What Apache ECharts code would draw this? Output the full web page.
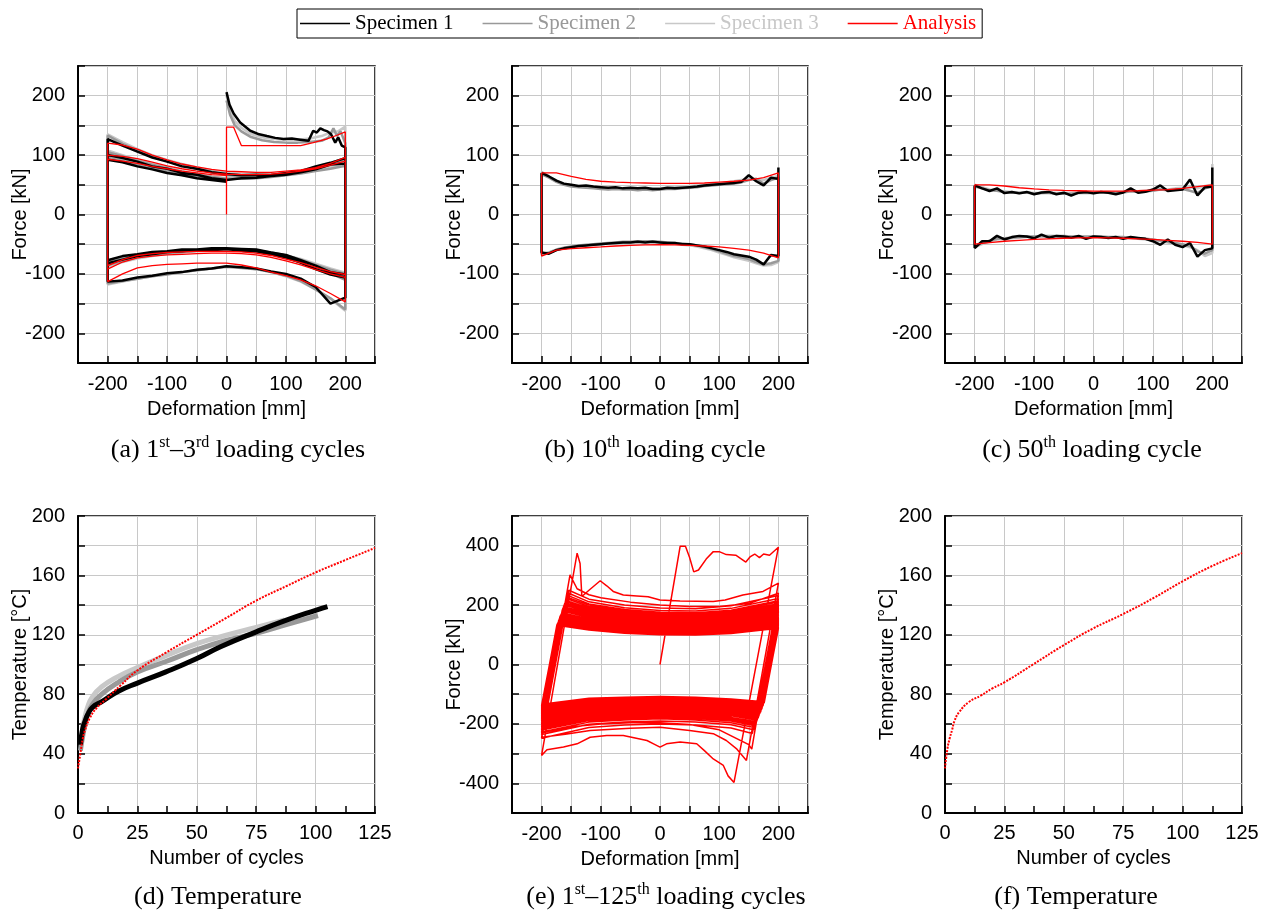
<!DOCTYPE html>
<html><head><meta charset="utf-8">
<script src="https://cdn.jsdelivr.net/npm/echarts@6/dist/echarts.min.js"></script>
<style>html,body{margin:0;padding:0;background:#fff}#c{width:1271px;height:916px}</style>
</head><body><div id="c"></div>
<script>
// ---------------- DATA ----------------
const X17 = [-200,-175,-150,-125,-100,-75,-50,-25,0,25,50,75,100,125,150,175,200];
const X33 = [-200,-187.5,-175,-162.5,-150,-137.5,-125,-112.5,-100,-87.5,-75,-62.5,-50,-37.5,-25,-12.5,0,12.5,25,37.5,50,62.5,75,87.5,100,112.5,125,137.5,150,162.5,175,187.5,200];

// (a) 1st-3rd cycles
const a_s1_first = [[0,206],[5,185],[12,170],[23,155],[40,141],[55,135],[68,132],[82,129],[96,127],[110,128],[124,126],[138,124],[146,141],[152,138],[158,145],[164,142],[170,140],[176,135],[183,121],[188,130],[194,116],[200,113]];
const a_s1_lo1 = [-113,-111,-106,-103,-99,-97,-93,-91,-87,-89,-91,-96,-100,-108,-122,-150,-140];
const a_s1_up2 = [127,116,106,96,89,81,77,71,68,66,67,66,70,73,81,87,95];
const a_s1_lo2 = [-82,-76,-70,-67,-63,-62,-59,-60,-58,-61,-62,-67,-72,-81,-92,-101,-106];
const a_s1_up3 = [100,95,89,81,77,70,67,61,58,61,62,65,67,71,76,84,86];
const a_s1_lo3 = [-77,-70,-67,-63,-62,-59,-59,-57,-57,-58,-59,-64,-68,-77,-86,-97,-101];
const a_s1_up4 = [92,88,81,76,70,66,61,58,55];

const a_s2_first = [[0,192],[6,168],[14,150],[25,140],[40,131],[60,125],[80,122],[100,121],[120,121],[140,122],[160,124],[172,130],[180,145],[186,132],[192,140],[200,120]];
const a_s2_lo1 = [-116,-112,-108,-104,-101,-97,-94,-91,-88,-90,-92,-97,-103,-112,-126,-141,-160];
const a_s2_up2 = [133,119,108,98,90,83,77,72,66,65,64,66,68,72,78,85,93];
const a_s2_lo2 = [-85,-78,-72,-68,-65,-63,-61,-60,-60,-61,-63,-67,-73,-81,-90,-99,-110];
const a_s2_up3 = [105,98,90,84,78,72,67,63,60,60,61,63,66,69,73,77,82];
const a_s2_lo3 = [-78,-72,-68,-65,-63,-61,-60,-59,-59,-60,-61,-64,-69,-76,-85,-93,-100];
const a_s2_up4 = [95,90,84,78,72,67,63,60,57];

const a_s3_first = [[0,200],[6,175],[14,157],[25,146],[40,136],[60,130],[80,127],[100,126],[120,126],[140,128],[160,132],[175,138],[188,140],[200,148]];
const a_s3_lo1 = [-118,-113,-108,-104,-100,-97,-94,-91,-88,-89,-92,-97,-104,-113,-126,-142,-162];
const a_s3_up2 = [135,122,110,100,92,85,79,74,70,68,67,68,70,74,80,87,95];
const a_s3_lo2 = [-88,-80,-74,-70,-66,-64,-62,-61,-60,-61,-63,-67,-73,-80,-88,-96,-104];
const a_s3_up3 = [108,100,92,85,79,73,68,64,61,61,62,64,67,71,75,80,85];
const a_s3_lo3 = [-80,-74,-69,-66,-63,-61,-60,-59,-58,-59,-61,-64,-69,-75,-83,-91,-98];
const a_s3_up4 = [98,92,85,79,73,68,64,61,58];

const a_an_first = [[0,0],[0,147],[12,147],[25,116],[75,116],[125,116],[146,121],[168,127],[185,133],[200,139]];
const a_an_lo1 = [-113,-100,-90,-86,-84,-83,-82,-82,-82,-85,-90,-97,-103,-110,-120,-133,-147];
const a_an_up2 = [120,117,110,100,92,85,80,76,73,72,71,71,73,75,79,86,96];
const a_an_lo2 = [-92,-80,-73,-70,-68,-67,-66,-65,-65,-66,-68,-72,-78,-85,-93,-100,-106];
const a_an_up3 = [100,98,94,88,82,77,73,70,68,67,67,68,70,73,77,83,90];
const a_an_lo3 = [-86,-76,-69,-66,-64,-63,-62,-62,-62,-63,-65,-69,-75,-81,-89,-96,-101];
const a_an_up4 = [93,90,86,81,77,73,70,67,66];

// (b) 10th cycle
const b_s1_up = [70,64,57,52,50,48,49,47,46,45,46,44,45,44,45,43,43,45,44,45,46,47,49,50,51,52,53,55,66,56,49,62,60];
const b_s1_lo = [-64,-66,-60,-57,-55,-53,-52,-51,-50,-49,-48,-47,-47,-46,-47,-46,-47,-48,-48,-50,-50,-52,-54,-57,-60,-63,-67,-69,-71,-76,-84,-68,-70];
const b_s1_peak = 79;
const b_s2_up = [68,62,55,50,47,46,45,44,43,42,43,42,42,41,42,41,42,43,43,44,45,46,48,49,50,51,52,54,58,60,52,58,62];
const b_s2_lo = [-66,-64,-59,-56,-54,-52,-51,-50,-49,-48,-47,-46,-46,-45,-45,-45,-46,-47,-48,-49,-50,-52,-55,-58,-62,-66,-70,-72,-75,-80,-84,-82,-78];
const b_s3_up = [72,64,57,52,49,47,46,45,44,43,44,43,43,43,44,44,44,45,46,47,48,49,50,51,52,54,56,58,60,60,58,62,65];
const b_s3_lo = [-68,-65,-60,-57,-55,-53,-52,-51,-50,-49,-48,-47,-47,-46,-46,-46,-47,-48,-49,-51,-52,-54,-57,-60,-64,-68,-72,-75,-78,-82,-86,-85,-80];
const b_an_up = [70,70,64,59,56,54.5,53.5,53,52.5,52.5,52.5,53,54.5,56,58,62,70];
const b_an_lo = [-70,-60,-57.5,-56,-54.6,-53,-52,-51,-50.7,-51,-52,-53,-54.6,-57,-60,-65,-73];

// (c) 50th cycle
const c_s1_up = [49,44,39.5,44,36,38,35.6,38,34,37,38,34,36.7,32,36.7,38,35.6,38,36.7,34,37,44,36.7,38.4,42,49,39.5,41,42,59,32,46,47];
const c_s1_lo = [-56.5,-45,-45,-36,-42,-38,-36,-37,-40,-34,-39,-36,-37,-39,-36,-41,-37,-38,-39.5,-38,-41,-38,-39.5,-41,-45,-51,-42,-51,-55,-48,-71,-60,-57];
const c_s1_peak = 79;
const c_s2_up = [47,44,41,40,38,37,36,37,35,36,36,35,35,35,36,36,36,37,37,36,37,39,38,39,40,42,41,42,43,40,36,44,47];
const c_s2_lo = [-52,-48,-44,-41,-40,-39,-38,-37,-37,-36,-36,-36,-36,-37,-37,-37,-37,-37,-38,-38,-38,-39,-40,-41,-42,-44,-46,-48,-50,-53,-62,-66,-60];
const c_s3_up = [50,46,42,40,39,38,37,37,36,36,37,36,36,36,37,37,37,38,38,37,38,40,39,40,41,43,42,44,45,46,44,48,50];
const c_s3_lo = [-55,-50,-45,-42,-41,-40,-39,-38,-38,-37,-37,-37,-37,-38,-38,-38,-38,-38,-39,-39,-39,-40,-41,-42,-43,-45,-47,-49,-52,-55,-60,-70,-65];
const c_s3_peak = 85;
const c_an_up = [50,50,48,45,43,41.5,40.5,40,39.5,39.5,39.5,40,41,42,44,47,50];
const c_an_lo = [-50,-47.5,-45,-43.5,-42,-41,-40,-39.5,-39,-39.5,-40,-41,-42,-43.5,-45,-47,-50];

// (d) temperature, tests and analysis  [cycle, degC]
const d_s1 = [[1,46],[2,57],[3,62],[4,66],[6,71],[10,75],[17,82],[25,87.5],[37,95],[50,104],[60,112],[75,122],[88,130],[100,136.5],[105,139]];
const d_s2 = [[1,42],[2,52],[3,60],[4,66],[6,73],[10,80],[17,88],[25,95],[37,102],[50,110],[62,116],[75,121],[88,127],[101,133]];
const d_s3 = [[2,58],[3,65],[4,71],[6,78],[10,85],[17,92],[25,98],[37,106],[50,114],[62,119.6],[75,125],[87,130]];
const d_an = [[0,30],[1,40],[2,50],[3,56],[5,64],[8,71],[12,77],[18,86],[25,96],[37,108],[50,120],[62,131],[75,143],[88,153],[100,162],[112,170],[125,178.5]];

// (e) analysis, 1st-125th cycles
const e_start = [[0,0],[34,398],[43,398],[50,360],[57,312],[65,318],[78,355],[90,380],[100,380],[112,370],[128,368],[145,345],[152,362],[160,372],[168,360],[175,372],[185,368],[200,395],
 [125,-397],[115,-375],[107,-340],[90,-318],[75,-290],[62,-267],[34,-261],[11,-267],[0,-278],[-10,-268],[-22,-256],[-62,-239],[-90,-239],[-118,-245],[-140,-267],[-163,-278],[-191,-287],[-200,-306],
 [-140,375],[-135,340],[-132,229],[-120,250],[-101,282],[-90,265],[-79,246],[-62,234],[-39,231],[-20,228],[0,217],[34,214],[90,212],[110,217],[140,234],[174,246],[200,274],
 [146,-323],[130,-285],[112,-256],[90,-233],[50,-222],[0,-211],[-50,-215],[-118,-222],[-160,-235],[-200,-245],
 [-152,302],[-140,255],[-120,235],[-100,225],[-50,210],[0,200],[50,195],[100,195],[150,205],[200,240],
 [155,-285],[150,-270],[100,-220],[50,-202],[0,-196],[-50,-196],[-100,-200],[-150,-210],[-200,-230]];
const E_UP_X = [-120,-60,0,60,120,200];
const E_LO_X = [120,60,0,-60,-120,-200];
// each row: [corner x, corner force, forces at E_UP_X]
const e_upRows = [
 [-154,250,220,200,190,188,198,232],[-154,240,211,191,182,180,189,222],[-155,232,204,185,176,174,183,215],
 [-157,227,200,181,172,170,179,210],[-158,222,195,176,168,166,175,205],[-159,216,190,172,164,162,171,200],
 [-160,211,186,168,160,158,166,195],[-161,206,181,164,156,154,162,190],[-162,201,176,160,152,150,158,185],
 [-163,195,172,155,148,147,154,181],[-164,190,167,151,144,143,150,176],[-165,185,162,147,140,139,146,171],
 [-165,180,158,143,136,135,141,166],[-166,174,153,139,132,131,137,161],[-167,170,150,135,129,128,134,157],
 [-168,166,146,132,126,125,131,154],[-169,162,143,129,123,122,128,150],[-169,158,139,126,120,119,125,146],
 [-170,154,136,123,117,116,122,143],[-171,150,132,120,114,113,119,139],[-171,147,129,117,111,110,115,135],
 [-172,143,125,113,108,107,112,132],[-173,139,122,110,105,104,109,128],[-174,135,118,107,102,101,106,124],
 [-174,132,116,105,100,99,104,122]];
// each row: [corner x, corner force, forces at E_LO_X]
const e_loRows = [
 [156,-232,-214,-204,-200,-204,-212,-248],[158,-220,-203,-194,-190,-194,-201,-236],[159,-212,-196,-187,-183,-187,-194,-227],
 [160,-206,-190,-182,-178,-182,-189,-221],[161,-202,-186,-177,-174,-177,-184,-216],[162,-197,-182,-173,-170,-173,-180,-211],
 [163,-193,-178,-169,-166,-169,-176,-206],[164,-188,-173,-165,-162,-165,-172,-201],[165,-183,-169,-161,-158,-161,-167,-196],
 [166,-179,-165,-157,-154,-157,-163,-191],[167,-174,-161,-153,-150,-153,-159,-186],[167,-171,-157,-150,-147,-150,-156,-182],
 [168,-167,-154,-147,-144,-147,-153,-179],[169,-164,-151,-144,-141,-144,-149,-175],[170,-160,-148,-141,-138,-141,-146,-171],
 [170,-157,-144,-138,-135,-138,-143,-167],[171,-153,-141,-135,-132,-135,-140,-164],[172,-150,-138,-132,-129,-132,-137,-160],
 [172,-146,-135,-129,-126,-129,-134,-156],[173,-143,-132,-125,-123,-125,-130,-153],[174,-139,-128,-122,-120,-122,-127,-149],
 [174,-136,-125,-119,-117,-119,-124,-145],[175,-132,-122,-116,-114,-116,-121,-141],[176,-129,-119,-113,-111,-113,-118,-138],
 [176,-125,-116,-110,-108,-110,-114,-134]];

// (f) analysis temperature
const f_an = [[0,30],[1,43],[2,50.5],[3,56],[4,62],[6,68],[10,74.7],[15,79],[20,84],[25,88],[37,100],[50,113],[62,124],[75,134],[88,145],[100,156],[112,166],[125,175]];

// ---------------- BUILD ----------------
const S1='Specimen 1', S2='Specimen 2', S3='Specimen 3', AN='Analysis';
const COL = {[S1]:'#000000',[S2]:'#999999',[S3]:'#c8c8c8',[AN]:'#ff0000'};
const lr = (xs, ys) => ys.map((y,i)=>[xs[i], y]);
const rl = (xs, ys) => lr(xs, ys).reverse();

function aLoop(first, lo1, up2, lo2, up3, lo3, up4){
  return [].concat(first, rl(X17,lo1), lr(X17,up2), rl(X17,lo2), lr(X17,up3), rl(X17,lo3), lr(X17.slice(0,9),up4));
}
function simpleLoop(xs, up, lo, peak){
  const u = lr(xs, up);
  const pts = u.concat(peak!=null ? [[xs[xs.length-1], peak]] : [], rl(xs, lo));
  pts.push(u[0]);
  return pts;
}
function ePath(){
  let pts = e_start.slice();
  for (let i=0;i<e_upRows.length;i++){
    const u = e_upRows[i], l = e_loRows[i];
    pts.push([u[0],u[1]]);
    E_UP_X.forEach((x,j)=>pts.push([x,u[j+2]]));
    pts.push([l[0],l[1]]);
    E_LO_X.forEach((x,j)=>pts.push([x,l[j+2]]));
  }
  return pts;
}

const FS = 'Liberation Sans';
const GRIDS = [
  {left:78, top:66, width:297, height:297},
  {left:512, top:66, width:296, height:297},
  {left:945, top:66, width:297, height:297},
  {left:78, top:516, width:297, height:297},
  {left:512, top:516, width:296, height:297},
  {left:945, top:516, width:297, height:297}
].map(g=>Object.assign({show:true, borderColor:'#000', borderWidth:1.5, containLabel:false, outerBoundsMode:'none'}, g));

function axis(gi, o){
  return {
    type:'value', gridIndex:gi, min:o.min, max:o.max, interval:o.interval,
    name:o.name, nameLocation:'middle', nameGap:o.nameGap, nameMoveOverlap:false,
    nameTextStyle:{fontFamily:FS, fontSize:20, color:'#000'},
    axisLine:{show:true, onZero:false, lineStyle:{color:'#000', width:2}},
    axisTick:{show:true, inside:true, length:7, lineStyle:{color:'#000', width:1.5}},
    minorTick: o.minor ? {show:true, splitNumber:2, length:7, lineStyle:{color:'#000', width:1.5}} : {show:false},
    axisLabel:{show:true, interval:0, margin:o.margin, color:'#000', fontFamily:FS, fontSize:20,
      showMinLabel:true, showMaxLabel:true, formatter:o.fmt},
    splitLine:{show:true, lineStyle:{color:'#c8c8c8', width:1}}
  };
}
const fmt100 = v => (v % 100 === 0 && Math.abs(v) <= 200) ? String(v) : '';
const fmt200 = v => (v % 200 === 0 && Math.abs(v) <= 400) ? String(v) : '';
const fmt40 = v => (v % 40 === 0) ? String(v) : '';
const fmtAll = v => String(v);

const YGAP = 48;
const xAxes = [], yAxes = [];
[0,1,2].forEach(gi=>{
  xAxes.push(axis(gi,{min:-250,max:250,interval:50,name:'Deformation [mm]',nameGap:36,margin:11,fmt:fmt100}));
  yAxes.push(axis(gi,{min:-250,max:250,interval:50,name:'Force [kN]',nameGap:YGAP,margin:13,fmt:fmt100}));
});
xAxes.push(axis(3,{min:0,max:125,interval:25,name:'Number of cycles',nameGap:35,margin:10,fmt:fmtAll,minor:true}));
yAxes.push(axis(3,{min:0,max:200,interval:20,name:'Temperature [°C]',nameGap:YGAP,margin:13,fmt:fmt40}));
xAxes.push(axis(4,{min:-250,max:250,interval:50,name:'Deformation [mm]',nameGap:36,margin:11,fmt:fmt100}));
yAxes.push(axis(4,{min:-500,max:500,interval:100,name:'Force [kN]',nameGap:YGAP,margin:13,fmt:fmt200}));
xAxes.push(axis(5,{min:0,max:125,interval:25,name:'Number of cycles',nameGap:35,margin:10,fmt:fmtAll,minor:true}));
yAxes.push(axis(5,{min:0,max:200,interval:20,name:'Temperature [°C]',nameGap:YGAP,margin:13,fmt:fmt40}));

function ser(name, gi, data, width, extra){
  const c = COL[name];
  const ls = Object.assign({color:c, width:width}, (extra && extra.ls) || {});
  return {type:'line', name, xAxisIndex:gi, yAxisIndex:gi, data, showSymbol:false, symbol:'none',
    smooth:(extra && extra.smooth) || false, animation:false, silent:true,
    lineStyle:ls, itemStyle:{color:c}, clip:true};
}

const series = [
  // (a)
  ser(S3,0,aLoop(a_s3_first,a_s3_lo1,a_s3_up2,a_s3_lo2,a_s3_up3,a_s3_lo3,a_s3_up4),2.5),
  ser(S2,0,aLoop(a_s2_first,a_s2_lo1,a_s2_up2,a_s2_lo2,a_s2_up3,a_s2_lo3,a_s2_up4),2.5),
  ser(S1,0,aLoop(a_s1_first,a_s1_lo1,a_s1_up2,a_s1_lo2,a_s1_up3,a_s1_lo3,a_s1_up4),2.5),
  ser(AN,0,aLoop(a_an_first,a_an_lo1,a_an_up2,a_an_lo2,a_an_up3,a_an_lo3,a_an_up4),1.3),
  // (b)
  ser(S3,1,simpleLoop(X33,b_s3_up,b_s3_lo,null),2.5),
  ser(S2,1,simpleLoop(X33,b_s2_up,b_s2_lo,null),2.5),
  ser(S1,1,simpleLoop(X33,b_s1_up,b_s1_lo,b_s1_peak),2.5),
  ser(AN,1,simpleLoop(X17,b_an_up,b_an_lo,null),1.3),
  // (c)
  ser(S3,2,simpleLoop(X33,c_s3_up,c_s3_lo,c_s3_peak),2.5),
  ser(S2,2,simpleLoop(X33,c_s2_up,c_s2_lo,null),2.5),
  ser(S1,2,simpleLoop(X33,c_s1_up,c_s1_lo,c_s1_peak),2.5),
  ser(AN,2,simpleLoop(X17,c_an_up,c_an_lo,null),1.3),
  // (d)
  ser(S3,3,d_s3,5,{smooth:true}),
  ser(S2,3,d_s2,5,{smooth:true}),
  ser(S1,3,d_s1,5,{smooth:true}),
  ser(AN,3,d_an,2,{smooth:true, ls:{type:[2,1.3]}}),
  // (e)
  ser(AN,4,ePath(),1.5),
  // (f)
  ser(AN,5,f_an,2,{smooth:true, ls:{type:[2,1.3]}})
];

const RICH = {
  n:{fontFamily:'Liberation Serif', fontSize:26, lineHeight:30, color:'#000'},
  s:{fontFamily:'Liberation Serif', fontSize:16, lineHeight:16, verticalAlign:'top', color:'#000'}
};
function cap(x, y, text){
  return {type:'text', x, y, silent:true,
    style:{text, rich:RICH, fill:'#000', align:'center', verticalAlign:'middle', textAlign:'center', textVerticalAlign:'middle'}};
}

const option = {
  backgroundColor:'#fff',
  animation:false,
  grid: GRIDS,
  xAxis: xAxes,
  yAxis: yAxes,
  legend:{
    left:297, top:9, orient:'horizontal',
    borderColor:'#000', borderWidth:1, borderRadius:0,
    padding:[4,6,4,3], itemGap:29, itemWidth:50, itemHeight:1.5, icon:'rect',
    selectedMode:false,
    textStyle:{fontFamily:'Liberation Serif', fontSize:21},
    data:[
      {name:S1, textStyle:{color:'#000000'}},
      {name:S2, textStyle:{color:'#999999'}},
      {name:S3, textStyle:{color:'#c8c8c8'}},
      {name:AN, textStyle:{color:'#ff0000'}}
    ]
  },
  graphic: [
    cap(238,450,'{n|(a) 1}{s|st}{n|–3}{s|rd}{n| loading cycles}'),
    cap(655,450,'{n|(b) 10}{s|th}{n| loading cycle}'),
    cap(1092,450,'{n|(c) 50}{s|th}{n| loading cycle}'),
    cap(218,897,'{n|(d) Temperature}'),
    cap(666,897,'{n|(e) 1}{s|st}{n|–125}{s|th}{n| loading cycles}'),
    cap(1076,897,'{n|(f) Temperature}')
  ],
  series
};
const chart = echarts.init(document.getElementById('c'), null, {renderer:'canvas'});
chart.setOption(option);
</script></body></html>
